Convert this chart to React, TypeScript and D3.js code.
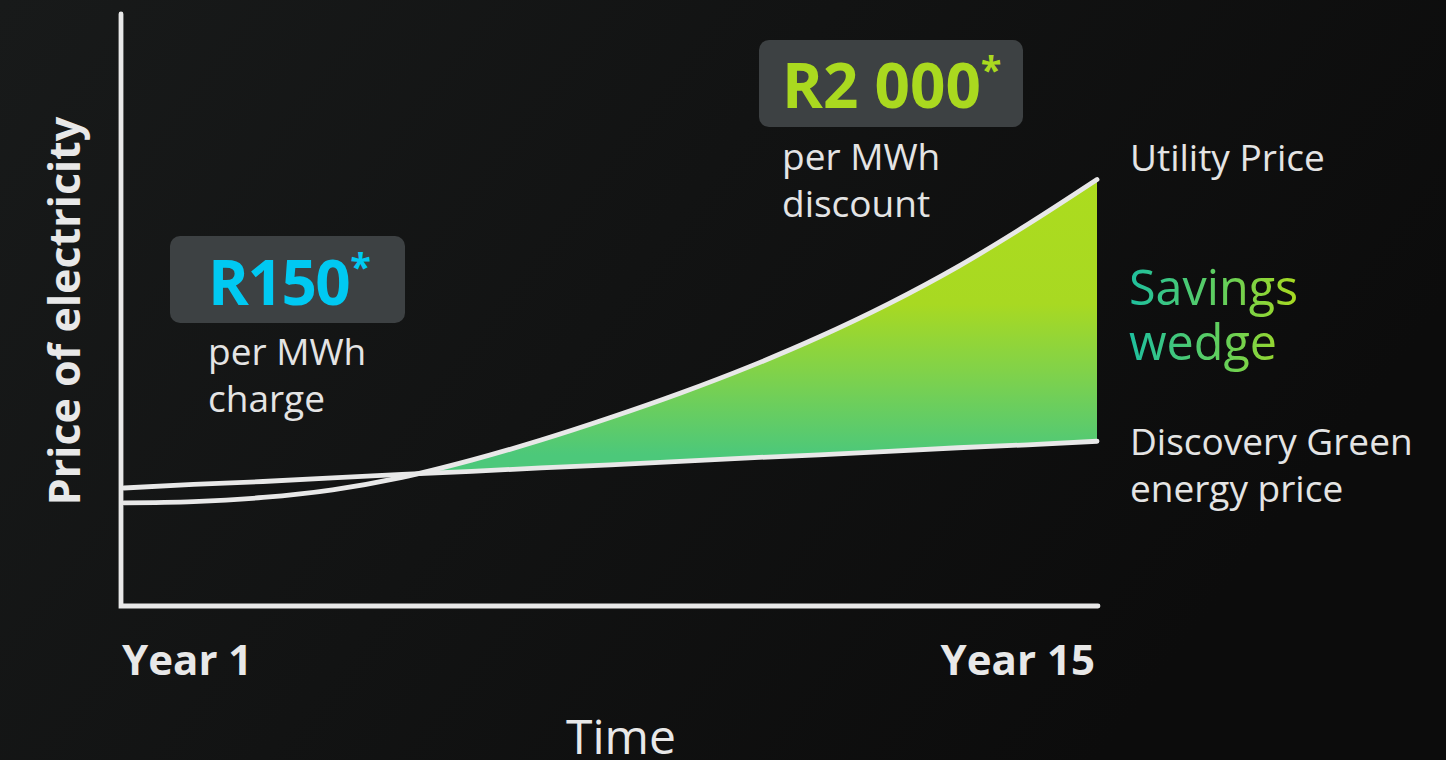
import React from "react";
import * as d3 from "d3";

const years = [1, 2, 3, 4, 5, 6, 7, 8, 9, 10, 11, 12, 13, 14, 15];
const utilityPrice = [17.6, 17.8, 18.5, 19.8, 21.9, 24.8, 28.2, 32.0, 36.1, 40.6, 45.6, 51.2, 57.5, 64.6, 72.2];
const greenPrice = [20.1, 20.7, 21.2, 21.8, 22.4, 22.9, 23.5, 24.0, 24.6, 25.2, 25.7, 26.3, 26.9, 27.4, 28.0];
const xTickLabels = ["Year 1", "Year 15"];

const W = 1446;
const H = 760;
const FONT = "'Open Sans', 'Noto Sans', sans-serif";
const LINE = "#e8e8e8";

export default function App() {
  const x = d3.scaleLinear().domain([1, 15]).range([124, 1097]);
  const y = d3.scaleLinear().domain([0, 100]).range([607, 15]);
  const smooth = d3.curveCatmullRom.alpha(0.5);

  const utilLine = d3
    .line<number>()
    .x((_, i) => x(years[i]))
    .y((d) => y(d))
    .curve(smooth);
  const greenLine = d3
    .line<number>()
    .x((_, i) => x(years[i]))
    .y((d) => y(d))
    .curve(d3.curveLinear);

  const wedge = d3
    .area<number>()
    .x((_, i) => x(years[i]))
    .y0((_, i) => y(greenPrice[i]))
    .y1((d) => y(d))
    .curve(smooth);

  const aboveGreen = d3
    .area<number>()
    .x((_, i) => x(years[i]))
    .y0(0)
    .y1((d) => y(d))
    .curve(d3.curveLinear);

  const x0 = 121;
  const yTop = 14;
  const yBase = 606;
  const xEnd = 1098;
  const rx = x(15) + 33;

  return (
    <div style={{ position: "fixed", left: 0, top: 0, width: W, height: H }}>
      <svg width={W} height={H} style={{ display: "block" }}>
        <defs>
          <linearGradient id="bg" x1="0" y1="0" x2="1" y2="0.4">
            <stop offset="0" stopColor="#181a1a" />
            <stop offset="0.5" stopColor="#121313" />
            <stop offset="1" stopColor="#0c0c0c" />
          </linearGradient>
          <linearGradient id="wedgeGrad" gradientUnits="userSpaceOnUse" x1="0" y1={180} x2="0" y2={455}>
            <stop offset="0" stopColor="#acdc1e" />
            <stop offset="0.45" stopColor="#a8d922" />
            <stop offset="0.7" stopColor="#80d24a" />
            <stop offset="1" stopColor="#4cc87a" />
          </linearGradient>
          <linearGradient id="savGrad" gradientUnits="userSpaceOnUse" x1={1130} y1="0" x2={1300} y2="0">
            <stop offset="0" stopColor="#1fc09e" />
            <stop offset="0.55" stopColor="#64cf5a" />
            <stop offset="1" stopColor="#abda1e" />
          </linearGradient>
          <clipPath id="aboveGreen">
            <path d={aboveGreen(greenPrice) || ""} />
          </clipPath>
        </defs>
        <rect x={0} y={0} width={W} height={H} fill="url(#bg)" />

        <path d={wedge(utilityPrice) || ""} fill="url(#wedgeGrad)" clipPath="url(#aboveGreen)" />

        <path d={greenLine(greenPrice) || ""} fill="none" stroke={LINE} strokeWidth={4.8} strokeLinecap="round" />
        <path d={utilLine(utilityPrice) || ""} fill="none" stroke={LINE} strokeWidth={4.8} strokeLinecap="round" />

        <path
          d={`M${x0},${yTop}L${x0},${yBase}L${xEnd},${yBase}`}
          fill="none"
          stroke={LINE}
          strokeWidth={4.8}
          strokeLinecap="round"
          strokeLinejoin="miter"
        />

        <text
          transform={`translate(80,311) rotate(-90)`}
          textAnchor="middle"
          fontFamily={FONT}
          fontWeight={700}
          fontSize={43}
          fill="#e8e8e8"
        >
          Price of electricity
        </text>
        <text x={x(1) - 2} y={675} fontFamily={FONT} fontWeight={700} fontSize={42} fill="#e8e8e8">
          {xTickLabels[0]}
        </text>
        <text x={x(15) - 2} y={675} textAnchor="end" fontFamily={FONT} fontWeight={700} fontSize={42} fill="#e8e8e8">
          {xTickLabels[1]}
        </text>
        <text x={621} y={754} textAnchor="middle" fontFamily={FONT} fontSize={48} fill="#e8e8e8">
          Time
        </text>

        <rect x={170} y={236} width={235} height={87} rx={10} fill="#3d4143" />
        <text x={208} y={305} fontFamily={FONT} fontWeight={700} fontSize={62} fill="#00c9f2" letterSpacing={-1.5}>
          R150
          <tspan fontSize={38} dy={-24} dx={1}>*</tspan>
        </text>
        <text x={208} y={365} fontFamily={FONT} fontSize={37} fill="#e4e4e4">
          per MWh
        </text>
        <text x={208} y={412} fontFamily={FONT} fontSize={37} fill="#e4e4e4">
          charge
        </text>

        <rect x={759} y={40} width={264} height={87} rx={10} fill="#3d4143" />
        <text x={782} y={108} fontFamily={FONT} fontWeight={700} fontSize={62} fill="#aad91f" letterSpacing={0}>
          R2 000
          <tspan fontSize={38} dy={-24} dx={0}>*</tspan>
        </text>
        <text x={782} y={170} fontFamily={FONT} fontSize={37} fill="#e4e4e4">
          per MWh
        </text>
        <text x={782} y={217} fontFamily={FONT} fontSize={37} fill="#e4e4e4">
          discount
        </text>

        <text x={rx} y={171} fontFamily={FONT} fontSize={37} fill="#e4e4e4">
          Utility Price
        </text>
        <text x={rx - 1} y={305} fontFamily={FONT} fontSize={48.5} fill="url(#savGrad)">
          Savings
        </text>
        <text x={rx - 1} y={360} fontFamily={FONT} fontSize={48.5} fill="url(#savGrad)">
          wedge
        </text>
        <text x={rx} y={455} fontFamily={FONT} fontSize={37} fill="#e4e4e4">
          Discovery Green
        </text>
        <text x={rx} y={502} fontFamily={FONT} fontSize={37} fill="#e4e4e4">
          energy price
        </text>
      </svg>
    </div>
  );
}
